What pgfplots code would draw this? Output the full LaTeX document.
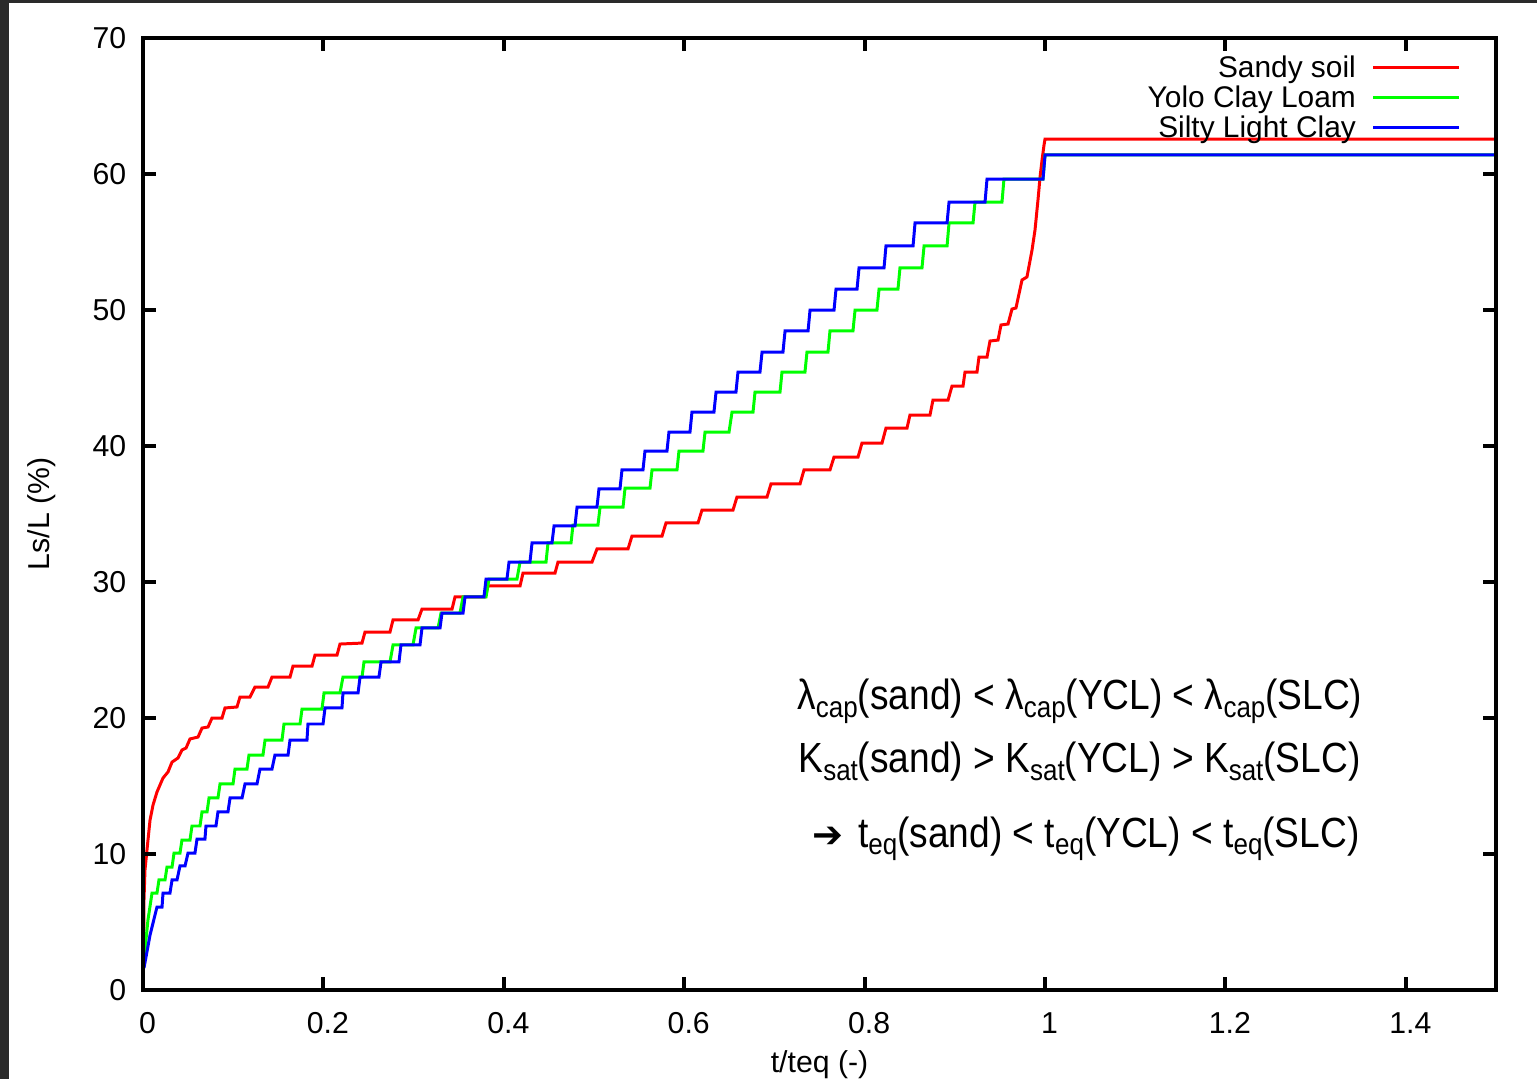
\documentclass[border=0pt]{standalone}
\usepackage{pgfplots}
\pgfplotsset{compat=1.18}
\usepackage{fontspec}
\setmainfont{Liberation Sans}
\newfontfamily\annfont[FakeStretch=0.88]{Liberation Sans}
\newfontfamily\arrowfont{DejaVu Sans}
\definecolor{frame}{HTML}{2A2A2A}
\definecolor{gpred}{HTML}{FF0000}
\definecolor{gpgreen}{HTML}{00FF00}
\definecolor{gpblue}{HTML}{0000FF}
\newcommand\sub[1]{\raisebox{-0.18em}{\fontsize{8.4}{9}\selectfont #1}}
\begin{document}
\begin{tikzpicture}[x=1cm,y=1cm]
\path[use as bounding box] (0,0) rectangle (15.37,10.79);
\clip (0,0) rectangle (15.37,10.79);
\fill[white] (0,0) rectangle (15.37,10.79);
\fill[frame] (0,0) rectangle (0.09,10.79);
\fill[frame] (0,10.76) rectangle (15.37,10.79);
\begin{axis}[
  at={(1.43cm,0.89cm)}, anchor=south west,
  scale only axis, width=13.53cm, height=9.52cm,
  xmin=0, xmax=1.5, ymin=0, ymax=70,
  xtick={0,0.2,0.4,0.6,0.8,1,1.2,1.4},
  ytick={0,10,20,30,40,50,60,70},
  tick align=inside, tick pos=both, xticklabel pos=lower, yticklabel pos=left,
  major tick length=1.3mm,
  every tick/.style={black, line width=1.1pt},
  axis line style={line width=1.2pt},
  axis on top,
  no markers,
  /pgf/number format/assume math mode=true,
  ticklabel style={font=\fontsize{8.6}{10}\selectfont, inner sep=0pt},
  xticklabel style={anchor=north, yshift=-2.2mm, xshift=0.45mm},
  yticklabel style={anchor=east, xshift=-1.6mm},
  xlabel={t/teq (-)},
  xlabel style={at={(axis description cs:0.5,0)}, anchor=north, inner sep=0pt, yshift=-6.0mm, font=\fontsize{8.6}{10}\selectfont},
  ylabel={Ls/L (\%)},
  ylabel style={at={(axis description cs:0,0.5)}, anchor=center, inner sep=0pt, yshift=10.1mm, font=\fontsize{8.6}{10}\selectfont},
  legend plot pos=right,
  legend cell align=right,
  legend image code/.code={\path (0mm,0mm); \draw[#1] (1.6mm,0.2mm) -- (10.2mm,0.2mm);},
  legend style={at={(0.9740,0.9832)}, anchor=north east, draw=none, fill=none,
    inner sep=0pt, outer sep=0pt, row sep=0pt, column sep=0pt,
    nodes={inner sep=0pt, text height=2.3mm, text depth=0.7mm, font=\fontsize{8.5}{10}\selectfont}},
]
\addplot[gpred, line width=0.85pt] coordinates {
(0.0006,2.21) (0.0011,6.62) (0.0022,8.82) (0.0044,10.29) (0.0078,12.50) (0.0111,13.60) (0.0155,14.56) (0.0222,15.59) (0.0277,16.03) (0.0322,16.76) (0.0388,17.06) (0.0432,17.65) (0.0477,17.79) (0.0521,18.46) (0.0610,18.60) (0.0654,19.26) (0.0721,19.34) (0.0765,20.00) (0.0876,20.00) (0.0909,20.74) (0.1042,20.81) (0.1075,21.54) (0.1186,21.54) (0.1242,22.28) (0.1386,22.28) (0.1430,23.01) (0.1630,23.01) (0.1663,23.82) (0.1874,23.82) (0.1907,24.63) (0.2151,24.63) (0.2184,25.44) (0.2428,25.51) (0.2461,26.32) (0.2738,26.32) (0.2772,27.21) (0.3049,27.21) (0.3093,28.01) (0.3426,28.01) (0.3459,28.90) (0.3792,28.90) (0.3825,29.71) (0.4180,29.71) (0.4213,30.66) (0.4568,30.66) (0.4601,31.47) (0.4978,31.47) (0.5033,32.43) (0.5377,32.43) (0.5421,33.38) (0.5754,33.38) (0.5798,34.34) (0.6153,34.34) (0.6197,35.29) (0.6541,35.29) (0.6585,36.25) (0.6918,36.25) (0.6962,37.21) (0.7284,37.21) (0.7328,38.24) (0.7616,38.24) (0.7661,39.19) (0.7927,39.19) (0.7971,40.22) (0.8193,40.22) (0.8237,41.32) (0.8470,41.32) (0.8503,42.28) (0.8725,42.28) (0.8758,43.38) (0.8925,43.38) (0.8969,44.41) (0.9091,44.41) (0.9113,45.44) (0.9246,45.44) (0.9268,46.54) (0.9357,46.54) (0.9390,47.72) (0.9479,47.79) (0.9512,48.90) (0.9590,48.97) (0.9634,50.07) (0.9678,50.15) (0.9745,52.21) (0.9800,52.43) (0.9856,54.41) (0.9889,55.88) (0.9922,58.09) (0.9945,59.78) (0.9967,61.03) (0.9989,62.13) (1.0000,62.57) (1.5,62.57)
};
\addlegendentry{Sandy soil}
\addplot[gpgreen, line width=0.85pt] coordinates {
(0.0011,2.21) (0.0055,5.15) (0.0100,7.13) (0.0155,7.13) (0.0177,8.09) (0.0244,8.09) (0.0266,9.04) (0.0322,9.04) (0.0344,10.07) (0.0410,10.07) (0.0432,11.03) (0.0521,11.03) (0.0543,12.06) (0.0632,12.06) (0.0654,13.09) (0.0710,13.09) (0.0732,14.12) (0.0831,14.12) (0.0854,15.15) (0.0998,15.15) (0.1020,16.25) (0.1153,16.25) (0.1175,17.28) (0.1330,17.28) (0.1353,18.38) (0.1541,18.38) (0.1563,19.56) (0.1741,19.56) (0.1763,20.66) (0.1984,20.66) (0.2007,21.84) (0.2184,21.84) (0.2217,23.01) (0.2428,23.01) (0.2450,24.12) (0.2738,24.12) (0.2772,25.37) (0.2993,25.37) (0.3027,26.62) (0.3271,26.62) (0.3304,27.72) (0.3514,27.72) (0.3548,28.90) (0.3803,28.90) (0.3836,30.22) (0.4146,30.22) (0.4180,31.47) (0.4468,31.47) (0.4490,32.87) (0.4745,32.87) (0.4767,34.19) (0.5044,34.19) (0.5067,35.51) (0.5322,35.51) (0.5344,36.91) (0.5621,36.91) (0.5643,38.24) (0.5920,38.24) (0.5942,39.63) (0.6208,39.63) (0.6231,41.03) (0.6497,41.03) (0.6530,42.50) (0.6763,42.50) (0.6785,43.97) (0.7062,43.97) (0.7084,45.44) (0.7339,45.44) (0.7361,46.91) (0.7594,46.91) (0.7616,48.46) (0.7871,48.46) (0.7894,50.00) (0.8137,50.00) (0.8160,51.54) (0.8370,51.54) (0.8392,53.09) (0.8636,53.09) (0.8659,54.71) (0.8914,54.71) (0.8936,56.40) (0.9202,56.40) (0.9224,57.94) (0.9523,57.94) (0.9545,59.63) (0.9978,59.63) (1.0000,61.40) (1.5,61.40)
};
\addlegendentry{Yolo Clay Loam}
\addplot[gpblue, line width=0.85pt] coordinates {
(0.0011,1.62) (0.0078,4.04) (0.0155,6.10) (0.0211,6.10) (0.0222,7.13) (0.0299,7.13) (0.0322,8.09) (0.0377,8.09) (0.0410,9.12) (0.0466,9.12) (0.0499,10.07) (0.0576,10.07) (0.0599,11.10) (0.0687,11.10) (0.0698,12.06) (0.0809,12.06) (0.0831,13.09) (0.0942,13.09) (0.0965,14.12) (0.1098,14.12) (0.1131,15.15) (0.1264,15.15) (0.1297,16.25) (0.1430,16.25) (0.1463,17.28) (0.1608,17.28) (0.1630,18.38) (0.1818,18.38) (0.1829,19.56) (0.1996,19.56) (0.2018,20.74) (0.2206,20.74) (0.2217,21.84) (0.2384,21.84) (0.2406,23.01) (0.2616,23.01) (0.2639,24.12) (0.2838,24.12) (0.2860,25.37) (0.3071,25.37) (0.3093,26.62) (0.3293,26.62) (0.3315,27.72) (0.3548,27.72) (0.3570,28.90) (0.3780,28.90) (0.3803,30.22) (0.4035,30.22) (0.4058,31.47) (0.4290,31.47) (0.4313,32.87) (0.4534,32.87) (0.4557,34.12) (0.4789,34.12) (0.4812,35.51) (0.5033,35.51) (0.5055,36.84) (0.5288,36.84) (0.5310,38.24) (0.5543,38.24) (0.5565,39.63) (0.5809,39.63) (0.5831,41.03) (0.6064,41.03) (0.6086,42.50) (0.6330,42.50) (0.6353,43.97) (0.6574,43.97) (0.6596,45.44) (0.6840,45.44) (0.6863,46.91) (0.7095,46.91) (0.7118,48.46) (0.7373,48.46) (0.7395,50.00) (0.7661,50.00) (0.7683,51.54) (0.7916,51.54) (0.7938,53.09) (0.8215,53.09) (0.8237,54.71) (0.8537,54.71) (0.8559,56.40) (0.8914,56.40) (0.8936,57.94) (0.9335,57.94) (0.9357,59.63) (0.9978,59.63) (1.0000,61.40) (1.5,61.40)
};
\addlegendentry{Silty Light Clay}
\node[anchor=base east, inner sep=0pt, font=\annfont\fontsize{12}{14}\selectfont] at (axis cs:1.3526,20.59) {λ\sub{cap}(sand) < λ\sub{cap}(YCL) < λ\sub{cap}(SLC)};
\node[anchor=base east, inner sep=0pt, font=\annfont\fontsize{12}{14}\selectfont] at (axis cs:1.3504,15.96) {K\sub{sat}(sand) > K\sub{sat}(YCL) > K\sub{sat}(SLC)};
\node[anchor=base east, inner sep=0pt, font=\annfont\fontsize{12}{14}\selectfont] at (axis cs:1.3493,10.51) {{\arrowfont\bfseries\fontsize{10.5}{12}\selectfont ➔}\hspace{0.1em} t\sub{eq}(sand) < t\sub{eq}(YCL) < t\sub{eq}(SLC)};
\end{axis}
\end{tikzpicture}
\end{document}
